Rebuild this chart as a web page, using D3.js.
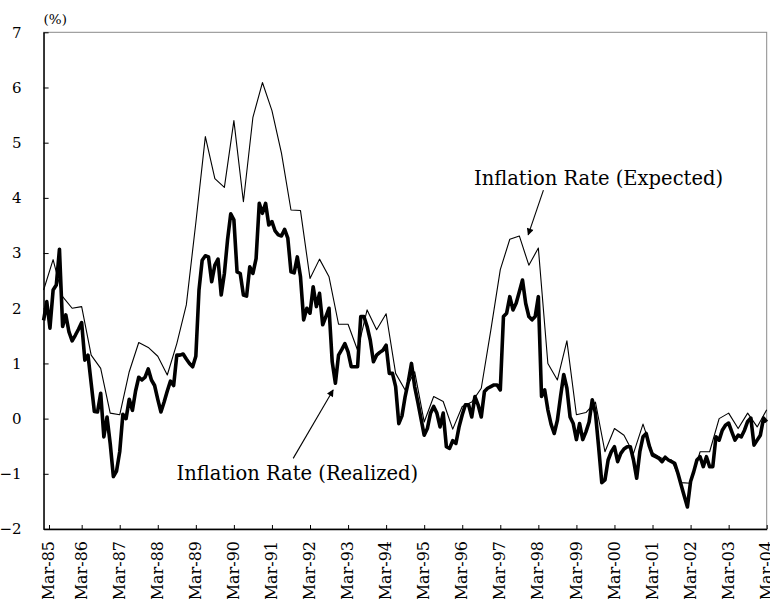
<!DOCTYPE html>
<html>
<head>
<meta charset="utf-8">
<script src="https://cdn.jsdelivr.net/npm/d3@7"></script>
<style>
  body { margin: 0; background: #fff; }
  text { font-family: "DejaVu Serif", serif; fill: #000; }
</style>
</head>
<body>
<div class="viewbox"></div>
<script>
  // monthly realized inflation, Mar-85 .. Mar-04 (one row per year, Mar..Feb)
  const realized = [
    1.78, 2.12, 1.64, 2.33, 2.42, 3.07, 1.67, 1.88, 1.57, 1.41, 1.51, 1.62,
    1.74, 1.06, 1.15, 0.64, 0.13, 0.12, 0.46, -0.33, 0.03, -0.45, -1.05, -0.95,
    -0.6, 0.08, 0.0, 0.35, 0.15, 0.5, 0.75, 0.7, 0.75, 0.9, 0.7, 0.6,
    0.35, 0.12, 0.3, 0.5, 0.68, 0.6, 1.15, 1.15, 1.17, 1.08, 1.0, 0.94,
    1.13, 2.33, 2.87, 2.95, 2.93, 2.48, 2.78, 2.89, 2.24, 2.63, 3.24, 3.71,
    3.60, 2.66, 2.63, 2.24, 2.22, 2.75, 2.63, 2.90, 3.90, 3.72, 3.90, 3.51,
    3.57, 3.40, 3.33, 3.31, 3.43, 3.27, 2.66, 2.64, 2.93, 2.57, 1.79, 2.0,
    1.91, 2.39, 2.03, 2.27, 1.70, 1.85, 2.0, 1.03, 0.64, 1.15, 1.25, 1.36,
    1.21, 0.94, 0.94, 0.94, 1.85, 1.85, 1.67, 1.42, 1.03, 1.15, 1.2, 1.24,
    1.33, 0.82, 0.82, 0.58, -0.09, 0.05, 0.4, 0.67, 1.0, 0.58, 0.3, 0.0,
    -0.30, -0.18, 0.1, 0.22, 0.10, -0.15, 0.10, -0.51, -0.54, -0.40, -0.45, -0.15,
    0.07, 0.25, 0.25, 0.03, 0.40, 0.25, 0.03, 0.49, 0.55, 0.58, 0.61, 0.61,
    0.52, 1.85, 1.91, 2.21, 1.97, 2.09, 2.30, 2.51, 2.09, 1.85, 1.79, 1.85,
    2.21, 0.40, 0.52, 0.16, -0.1, -0.27, -0.03, 0.4, 0.80, 0.55, 0.03, -0.09,
    -0.38, -0.09, -0.38, -0.24, -0.06, 0.34, 0.10, -0.51, -1.16, -1.11, -0.75, -0.6,
    -0.51, -0.78, -0.63, -0.55, -0.51, -0.51, -0.75, -1.08, -0.60, -0.33, -0.27, -0.5,
    -0.66, -0.69, -0.72, -0.78, -0.70, -0.75, -0.78, -0.81, -0.99, -1.20, -1.40, -1.6,
    -1.14, -0.96, -0.75, -0.69, -0.87, -0.69, -0.87, -0.87, -0.33, -0.39, -0.21, -0.12,
    -0.08, -0.24, -0.39, -0.30, -0.33, -0.21, -0.05, 0.01, -0.48, -0.39, -0.30, 0.01,
    -0.06
  ];

  // quarterly expected inflation (Mar, Jun, Sep, Dec), Mar-85 .. Mar-04
  const expected = [
    2.33, 2.88, 2.21, 2.0,
    2.03, 1.15, 0.91, 0.10,
    0.07, 0.85, 1.38, 1.29,
    1.13, 0.79, 1.36, 2.06,
    3.55, 5.11, 4.35, 4.19,
    5.40, 3.93, 5.46, 6.09,
    5.58, 4.81, 3.78, 3.77,
    2.54, 2.89, 2.57, 1.71,
    1.71, 1.24, 1.97, 1.61,
    1.90, 0.82, 0.52, 0.85,
    -0.06, 0.40, 0.31, -0.19,
    0.22, 0.30, 0.55, 1.6,
    2.7, 3.25, 3.31, 2.78,
    3.09, 1.0, 0.70, 1.41,
    0.07, 0.11, 0.3, -0.60,
    -0.18, -0.30, -0.63, -0.10,
    -0.62, -0.72, -0.75, -1.16,
    -1.17, -0.60, -0.60, 0.0,
    0.10, -0.18, 0.10, -0.15,
    0.16
  ];

  const tickLabels = ["Mar-85", "Mar-86", "Mar-87", "Mar-88", "Mar-89", "Mar-90",
    "Mar-91", "Mar-92", "Mar-93", "Mar-94", "Mar-95", "Mar-96", "Mar-97",
    "Mar-98", "Mar-99", "Mar-00", "Mar-01", "Mar-02", "Mar-03", "Mar-04"];
  const yTicks = [-2, -1, 0, 1, 2, 3, 4, 5, 6, 7];

  const svg_width = 770;
  const svg_height = 599;
  const margin = { top: 32.3, right: 3.3, bottom: 70, left: 43.6 };

  const svg = d3.select(".viewbox")
    .append("svg")
    .attr("width", svg_width)
    .attr("height", svg_height);

  // x is month index since Mar-85
  const x = d3.scaleLinear()
    .domain([0, realized.length - 1])
    .range([margin.left, svg_width - margin.right]);
  const y = d3.scaleLinear()
    .domain([-2, 7])
    .range([svg_height - margin.bottom, margin.top]);

  // plot area frame (grey), axes drawn over it in black
  svg.append("rect")
    .attr("x", x(0))
    .attr("y", y(7))
    .attr("width", x(realized.length - 1) - x(0))
    .attr("height", y(-2) - y(7))
    .attr("fill", "none")
    .attr("stroke", "#8a8a8a")
    .attr("stroke-width", 1);

  // tick every 12 months; Excel nudged the first one a bit inside the frame
  const firstTickNudge = 1.7;
  const xTickVals = tickLabels.map((d, i) => i === 0 ? firstTickNudge : i * 12);

  const xAxis = svg.append("g")
    .attr("transform", `translate(0,${y(-2)})`)
    .call(d3.axisBottom(x)
      .tickValues(xTickVals)
      .tickFormat((d, i) => tickLabels[i])
      .tickSizeInner(-4)
      .tickSizeOuter(0));
  xAxis.select(".domain").attr("stroke", "#000").attr("stroke-width", 1.4);
  xAxis.selectAll(".tick line").attr("stroke", "#000");
  xAxis.selectAll(".tick text")
    .attr("transform", "rotate(-90)")
    .attr("text-anchor", "end")
    .attr("x", -12)
    .attr("y", -1)
    .attr("dy", "0.35em")
    .style("font-size", "16px")
    .style("font-family", "DejaVu Serif, serif");

  const yAxis = svg.append("g")
    .attr("transform", `translate(${x(0)},0)`)
    .call(d3.axisLeft(y)
      .tickValues(yTicks)
      .tickSizeInner(-5)
      .tickSizeOuter(0)
      .tickPadding(22));
  yAxis.select(".domain").attr("stroke", "#000").attr("stroke-width", 1.4);
  yAxis.selectAll(".tick line").attr("stroke", "#000");
  yAxis.selectAll(".tick text")
    .style("font-size", "15px")
    .style("font-family", "DejaVu Serif, serif");

  svg.append("text")
    .attr("x", x(0))
    .attr("y", 24)
    .style("font-size", "13.5px")
    .text("(%)");

  // lines
  const lineRealized = d3.line()
    .x((d, i) => x(i))
    .y(d => y(d));
  const lineExpected = d3.line()
    .x((d, i) => x(i * 3))
    .y(d => y(d));

  svg.append("path")
    .datum(expected)
    .attr("fill", "none")
    .attr("stroke", "#000")
    .attr("stroke-width", 1.1)
    .attr("stroke-linejoin", "round")
    .attr("d", lineExpected);

  svg.append("path")
    .datum(realized)
    .attr("fill", "none")
    .attr("stroke", "#000")
    .attr("stroke-width", 3.6)
    .attr("stroke-linejoin", "round")
    .attr("d", lineRealized);

  // annotations, in data units (month index, %)
  const notes = [
    { label: "Inflation Rate (Expected)", at: [135.7, 4.23], from: [157.6, 4.14], to: [152.8, 3.33] },
    { label: "Inflation Rate (Realized)", at: [41.9, -1.11], from: [78.7, -0.72], to: [91.3, 0.52] }
  ];

  svg.append("defs").append("marker")
    .attr("id", "arrow")
    .attr("viewBox", "0 0 10 10")
    .attr("refX", 9)
    .attr("refY", 5)
    .attr("markerWidth", 9)
    .attr("markerHeight", 7)
    .attr("markerUnits", "userSpaceOnUse")
    .attr("orient", "auto")
    .append("path")
    .attr("d", "M0,0 L10,5 L0,10 Z")
    .attr("fill", "#000");

  const g = svg.selectAll("g.note")
    .data(notes)
    .enter()
    .append("g")
    .attr("class", "note");

  g.append("line")
    .attr("x1", d => x(d.from[0]))
    .attr("y1", d => y(d.from[1]))
    .attr("x2", d => x(d.to[0]))
    .attr("y2", d => y(d.to[1]))
    .attr("stroke", "#000")
    .attr("stroke-width", 1.1)
    .attr("marker-end", "url(#arrow)");

  g.append("text")
    .attr("x", d => x(d.at[0]))
    .attr("y", d => y(d.at[1]))
    .style("font-size", "19.5px")
    .text(d => d.label);
</script>
</body>
</html>
